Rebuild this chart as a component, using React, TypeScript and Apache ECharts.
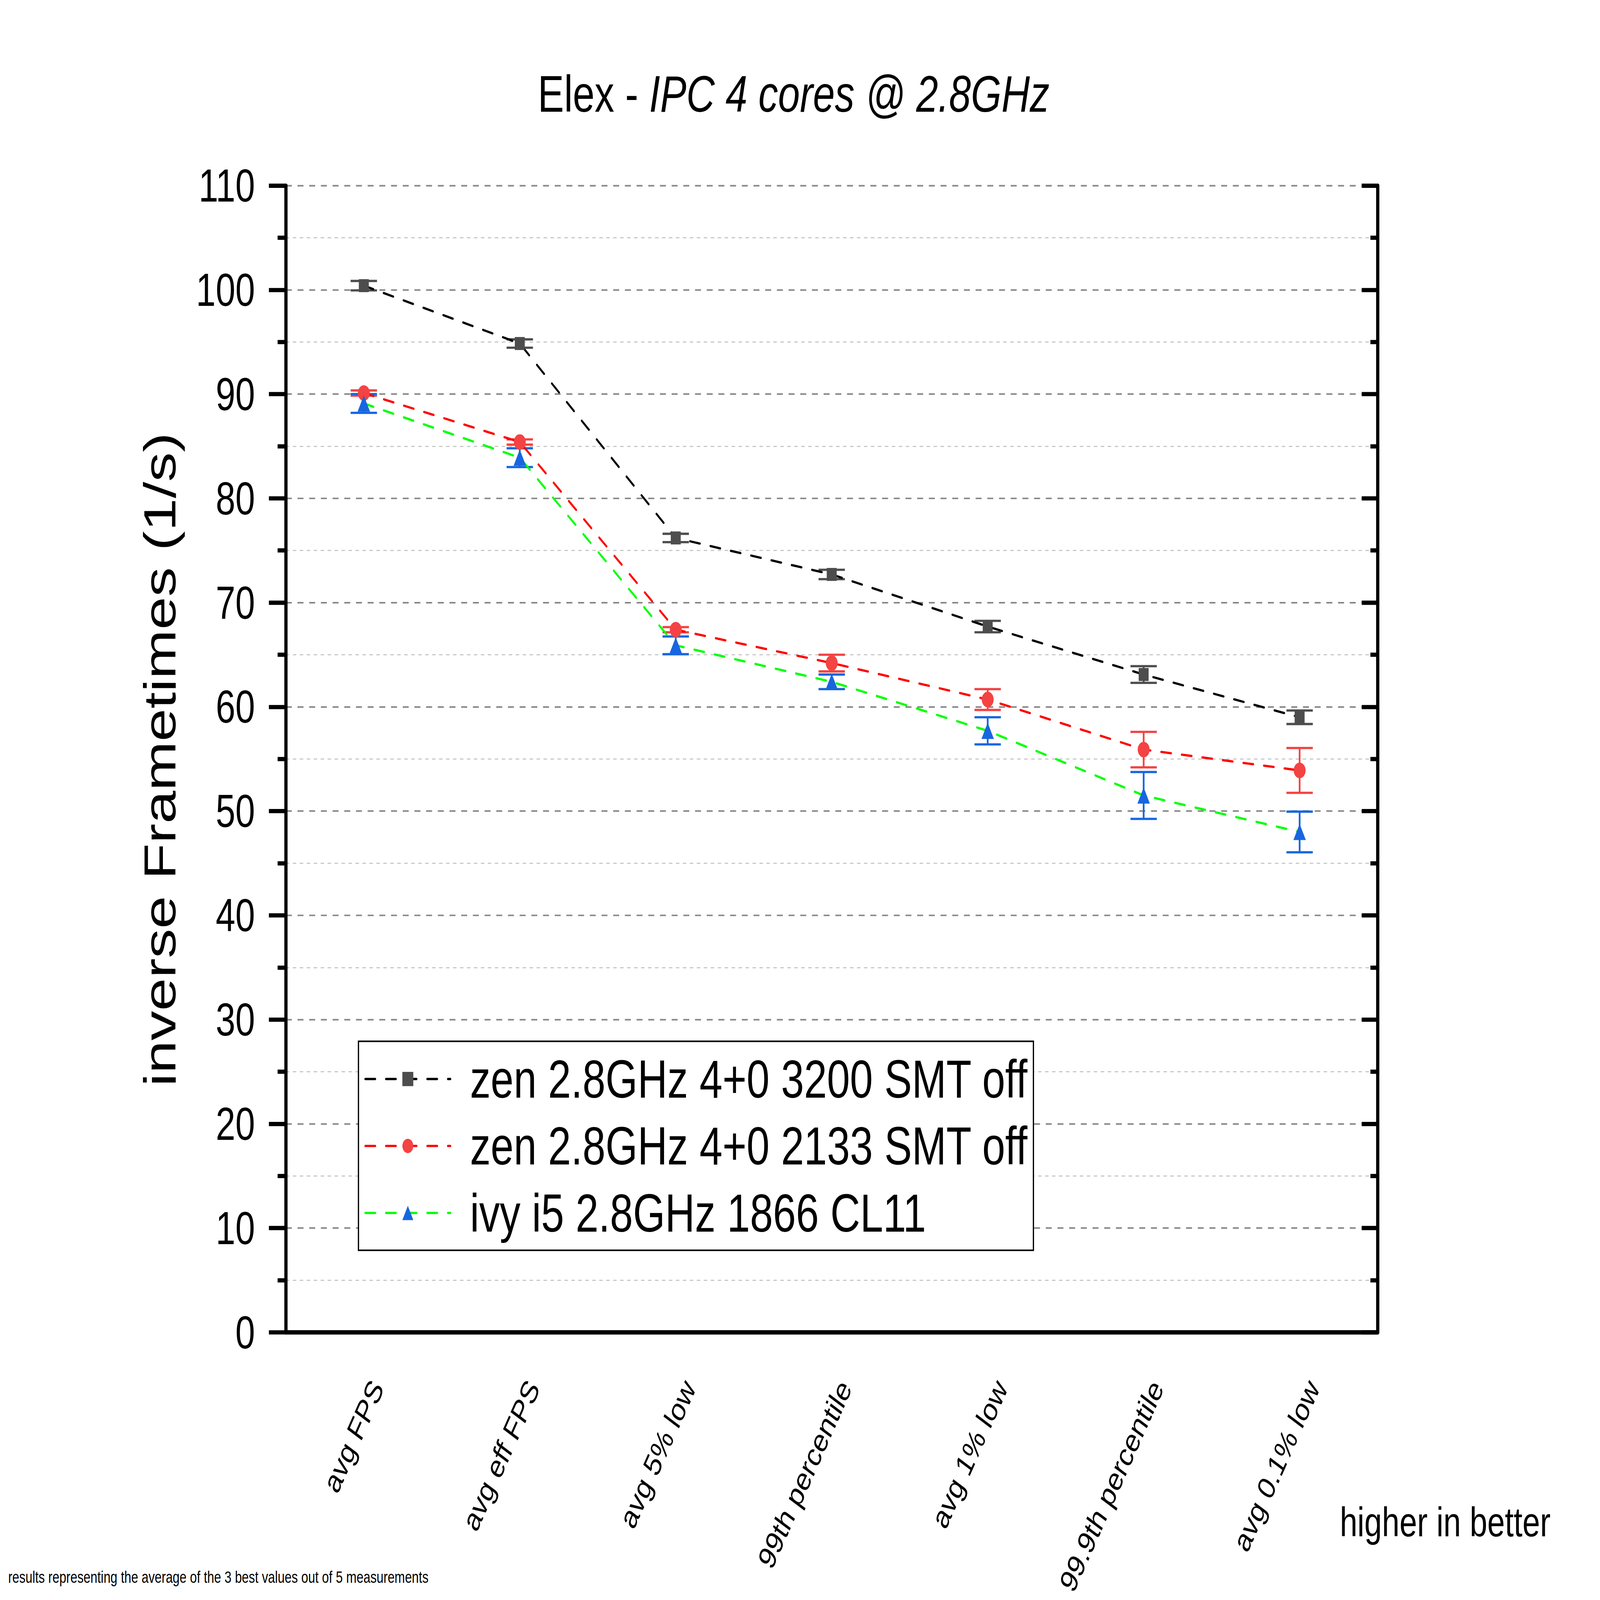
import { useEffect, useRef } from "react";
import * as echarts from "echarts";

const FONT = "'Liberation Sans', Arial, sans-serif";

const categories = [
  "avg FPS",
  "avg eff FPS",
  "avg 5% low",
  "99th percentile",
  "avg 1% low",
  "99.9th percentile",
  "avg 0.1% low",
];

const seriesNames = [
  "zen 2.8GHz 4+0 3200 SMT off",
  "zen 2.8GHz 4+0 2133 SMT off",
  "ivy i5 2.8GHz 1866 CL11",
];

// inverse frametimes (1/s) and error bar half-widths
const zen3200 = [100.4, 94.85, 76.2, 72.7, 67.7, 63.1, 59.0];
const zen3200Err = [0.45, 0.4, 0.4, 0.45, 0.55, 0.8, 0.65];
const zen2133 = [90.1, 85.4, 67.4, 64.2, 60.7, 55.9, 53.9];
const zen2133Err = [0.25, 0.25, 0.25, 0.8, 1.0, 1.7, 2.15];
const ivy = [89.1, 83.9, 65.9, 62.4, 57.7, 51.5, 48.0];
const ivyErr = [0.9, 0.9, 0.85, 0.7, 1.3, 2.25, 1.95];

const lineColors = ["#000000", "#ff0000", "#00ff00"];
const markerColors = ["#4d4d4d", "#f44343", "#1766e0"];
const markerSymbols = ["rect", "circle", "triangle"];
const markerSizes = [40, 48, 50];

// size of the original figure; the page is scaled to whatever the window is
const W = 6432;
const H = 4923;

function errorBarSeries(values: number[], errs: number[], color: string) {
  return {
    type: "custom",
    z: 3,
    silent: true,
    // eslint-disable-next-line @typescript-eslint/no-explicit-any
    renderItem: (_params: any, api: any) => {
      const x = api.value(0);
      const lo = api.coord([x, api.value(1)]);
      const hi = api.coord([x, api.value(2)]);
      const half = 53;
      const style = { stroke: color, lineWidth: 7 };
      return {
        type: "group",
        children: [
          { type: "line", shape: { x1: lo[0], y1: lo[1], x2: hi[0], y2: hi[1] }, style },
          { type: "line", shape: { x1: lo[0] - half, y1: lo[1], x2: lo[0] + half, y2: lo[1] }, style },
          { type: "line", shape: { x1: hi[0] - half, y1: hi[1], x2: hi[0] + half, y2: hi[1] }, style },
        ],
      };
    },
    encode: { x: 0, y: [1, 2] },
    data: values.map((v, i) => [i, v - errs[i], v + errs[i]]),
  };
}

export default function App() {
  const ref = useRef<HTMLDivElement | null>(null);
  const sx = window.innerWidth / W;
  const sy = window.innerHeight / H;

  useEffect(() => {
    if (!ref.current) return;
    const chart = echarts.init(ref.current, undefined, { renderer: "svg" });

    const values = [zen3200, zen2133, ivy];
    const errs = [zen3200Err, zen2133Err, ivyErr];

    const lineSeries = values.map((data, k) => ({
      name: seriesNames[k],
      type: "line",
      data,
      symbol: markerSymbols[k],
      symbolSize: markerSizes[k],
      z: 4,
      lineStyle: { color: lineColors[k], width: 7, type: [40, 43], cap: "round" },
      itemStyle: { color: markerColors[k] },
    }));

    const axisLine = { lineStyle: { color: "#000", width: 13 } };
    const tickLine = { color: "#000", width: 13 };

    const option = {
      animation: false,
      backgroundColor: "#ffffff",
      textStyle: { fontFamily: FONT, color: "#000" },
      title: {
        text: "{n|Elex - }{i|IPC 4 cores @ 2.8GHz}",
        left: 2162,
        top: 210,
        padding: 0,
        textStyle: {
          fontWeight: "normal",
          rich: {
            n: { fontSize: 158, fontFamily: FONT, fontWeight: "normal", color: "#000" },
            i: { fontSize: 158, fontFamily: FONT, fontWeight: "normal", fontStyle: "italic", color: "#000" },
          },
        },
      },
      grid: { left: 1149, right: W - 5538, top: 571, bottom: H - 4104, containLabel: false },
      legend: {
        data: seriesNames,
        orient: "vertical",
        left: 1441,
        top: 3204,
        padding: [33, 21, 32, 24],
        itemGap: 40,
        itemWidth: 342,
        itemHeight: 55,
        borderColor: "#000",
        borderWidth: 5,
        backgroundColor: "#fff",
        selectedMode: false,
        lineStyle: { width: 7 },
        textStyle: { fontSize: 166, color: "#000", fontFamily: FONT, padding: [0, 0, 0, 74] },
      },
      xAxis: [
        {
          type: "category",
          data: categories,
          position: "bottom",
          axisLine,
          axisTick: { alignWithLabel: true, length: 68, lineStyle: tickLine },
          axisLabel: {
            interval: 0,
            rotate: 60,
            fontSize: 99,
            fontFamily: FONT,
            color: "#000",
            margin: 124,
            align: "right",
            verticalAlign: "top",
            lineHeight: 126,
          },
          splitLine: { show: false },
        },
        {
          type: "category",
          data: categories,
          position: "top",
          axisLine,
          axisTick: { show: false },
          axisLabel: { show: false },
          splitLine: { show: false },
        },
      ],
      yAxis: [
        {
          type: "value",
          min: 0,
          max: 110,
          interval: 10,
          position: "left",
          axisLine: { show: true, ...axisLine },
          axisTick: { show: true, inside: false, length: 68, lineStyle: tickLine },
          minorTick: { show: true, splitNumber: 2, length: 33, lineStyle: tickLine },
          axisLabel: { fontSize: 142, fontFamily: FONT, color: "#000", margin: 124 },
          splitLine: { show: true, lineStyle: { color: "#878787", width: 4.7, type: [24, 23] } },
          minorSplitLine: { show: true, lineStyle: { color: "#c4c4c4", width: 3.3, type: [14, 14] } },
        },
        {
          type: "value",
          min: 0,
          max: 110,
          interval: 10,
          position: "right",
          axisLine: { show: true, ...axisLine },
          axisTick: { show: true, inside: true, length: 64, lineStyle: tickLine },
          minorTick: { show: true, splitNumber: 2, length: 29, lineStyle: tickLine },
          axisLabel: { show: false },
          splitLine: { show: false },
        },
      ],
      graphic: [
        {
          type: "text",
          x: 642,
          y: 2337,
          rotation: Math.PI / 2,
          style: {
            text: "inverse Frametimes (1/s)",
            font: `182px ${FONT}`,
            fill: "#000",
            textAlign: "center",
            textVerticalAlign: "middle",
          },
        },
        {
          type: "text",
          x: 5386,
          y: 4683,
          style: {
            text: "higher in better",
            font: `127px ${FONT}`,
            fill: "#000",
            textAlign: "left",
            textVerticalAlign: "middle",
          },
        },
        {
          type: "text",
          x: 33,
          y: 4852,
          style: {
            text: "results representing the average of the 3 best values out of 5 measurements",
            font: `50px ${FONT}`,
            fill: "#000",
            textAlign: "left",
            textVerticalAlign: "middle",
          },
        },
      ],
      series: [
        ...values.map((v, k) => errorBarSeries(v, errs[k], markerColors[k])),
        ...lineSeries,
      ],
    };

    // eslint-disable-next-line @typescript-eslint/no-explicit-any
    chart.setOption(option as any);

    return () => {
      chart.dispose();
    };
  }, []);

  return (
    <div
      style={{
        position: "fixed",
        left: 0,
        top: 0,
        width: "100vw",
        height: "100vh",
        overflow: "hidden",
        background: "#fff",
      }}
    >
      <div
        ref={ref}
        style={{
          width: W,
          height: H,
          transform: `scale(${sx}, ${sy})`,
          transformOrigin: "0 0",
        }}
      />
    </div>
  );
}
